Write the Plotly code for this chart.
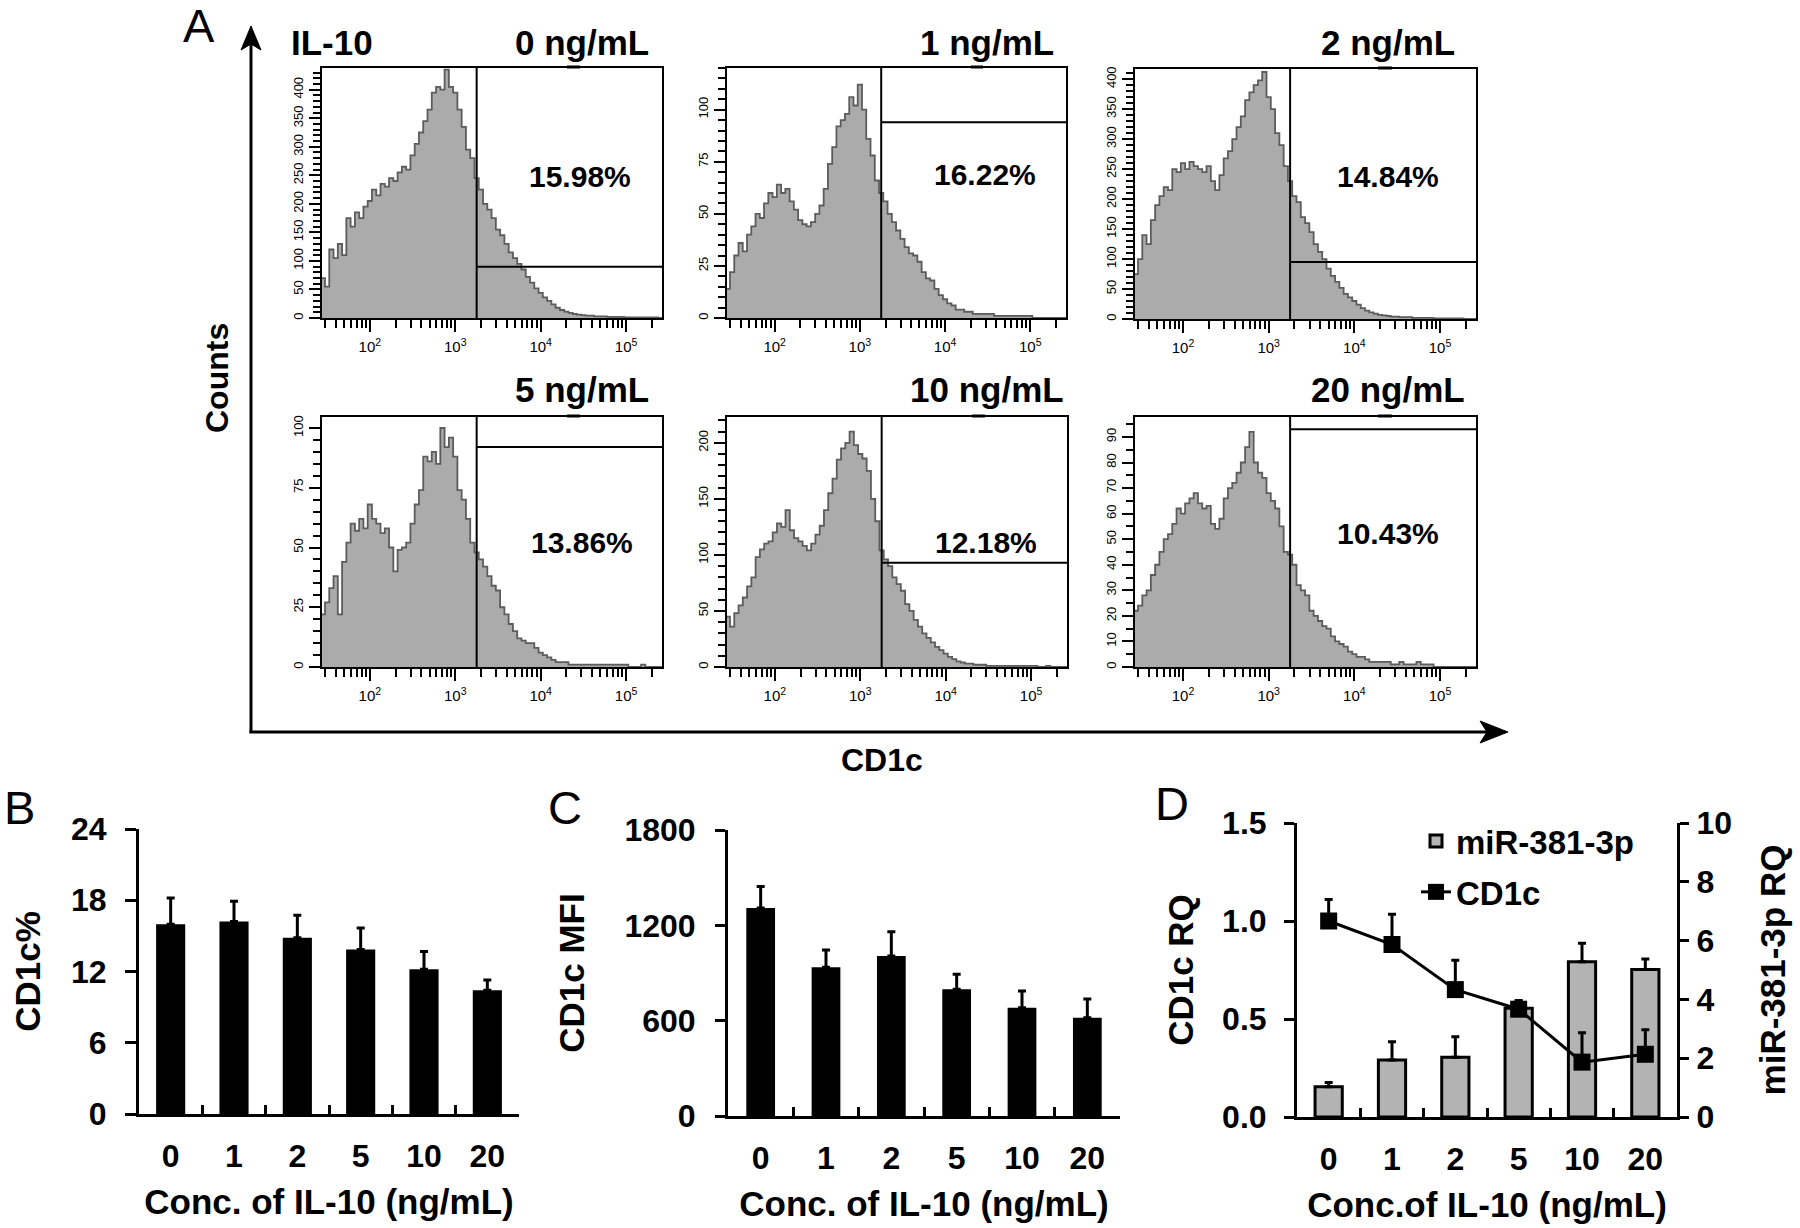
import numpy as np
import plotly.graph_objects as go

W, H = 1800, 1228
FONT = "Liberation Sans, Arial, sans-serif"

# ---------------- data ----------------
conc_labels = ["0", "1", "2", "5", "10", "20"]
panel_titles = ["0 ng/mL", "1 ng/mL", "2 ng/mL", "5 ng/mL", "10 ng/mL", "20 ng/mL"]
positive_pct_labels = ["15.98%", "16.22%", "14.84%", "13.86%", "12.18%", "10.43%"]

# histogram bins: log10(CD1c) centres start at 1.45, step 0.05
hist_log_first = 1.45
hist_log_step = 0.05

counts_0 = [70, 55, 120, 105, 130, 110, 175, 160, 185, 175,
            195, 205, 225, 215, 235, 230, 245, 240, 255, 265,
            260, 285, 305, 325, 345, 365, 395, 405, 400, 435,
            405, 395, 365, 335, 295, 280, 245, 225, 200, 190,
            175, 155, 145, 130, 115, 105, 95, 85, 72, 62,
            52, 44, 36, 30, 24, 18, 14, 11, 9, 7,
            6, 5, 4, 4, 3, 3, 3, 2, 2, 2,
            2, 1, 1, 1, 1, 1, 1, 1, 1, 0]
counts_1 = [14, 22, 30, 36, 32, 40, 44, 50, 48, 55,
            60, 58, 64, 60, 62, 56, 52, 47, 45, 44,
            46, 50, 54, 62, 74, 82, 92, 95, 98, 106,
            102, 112, 100, 86, 78, 66, 60, 56, 50, 46,
            42, 38, 34, 31, 30, 27, 22, 19, 18, 14,
            11, 9, 7, 6, 4, 4, 3, 3, 2, 2,
            2, 2, 2, 1, 1, 1, 1, 1, 1, 1,
            1, 1, 0, 0, 0, 0, 0, 0, 0, 0]
counts_2 = [75, 100, 140, 125, 165, 190, 205, 220, 215, 250,
            245, 260, 250, 262, 255, 250, 245, 255, 230, 215,
            240, 268, 280, 300, 320, 338, 365, 378, 390, 398,
            412, 370, 350, 310, 290, 255, 230, 205, 195, 170,
            160, 145, 125, 112, 100, 84, 72, 62, 52, 42,
            36, 30, 24, 18, 14, 11, 9, 7, 6, 5,
            4, 4, 3, 3, 3, 2, 2, 2, 2, 2,
            1, 1, 1, 1, 1, 1, 1, 0, 0, 0]
counts_3 = [22, 27, 33, 38, 22, 44, 52, 60, 57, 62,
            58, 68, 62, 60, 56, 58, 50, 40, 49, 50,
            52, 60, 68, 74, 88, 86, 90, 85, 100, 92,
            96, 88, 74, 70, 62, 52, 48, 45, 42, 38,
            34, 32, 25, 22, 18, 15, 12, 11, 10, 10,
            8, 6, 5, 4, 3, 2, 2, 2, 1, 1,
            1, 1, 1, 1, 1, 1, 1, 1, 1, 1,
            1, 1, 0, 0, 0, 1, 0, 0, 0, 0]
counts_4 = [45, 36, 48, 55, 62, 72, 80, 98, 105, 110,
            112, 120, 128, 125, 140, 122, 115, 112, 108, 104,
            110, 118, 126, 140, 155, 168, 185, 195, 200, 210,
            198, 190, 186, 175, 150, 130, 104, 96, 90, 80,
            74, 68, 56, 50, 42, 36, 30, 26, 22, 18,
            15, 12, 9, 7, 5, 4, 3, 3, 2, 2,
            2, 1, 1, 1, 1, 1, 1, 1, 1, 1,
            1, 1, 1, 0, 0, 1, 0, 0, 0, 0]
counts_5 = [22, 24, 28, 30, 36, 40, 45, 50, 52, 56,
            62, 60, 64, 66, 68, 64, 62, 63, 56, 54,
            58, 66, 70, 72, 76, 80, 86, 92, 80, 76,
            74, 68, 65, 62, 55, 45, 44, 40, 32, 30,
            28, 22, 20, 18, 16, 15, 12, 10, 9, 8,
            6, 5, 4, 4, 3, 2, 2, 2, 2, 2,
            1, 1, 2, 1, 1, 1, 2, 1, 1, 1,
            0, 0, 0, 0, 0, 0, 0, 0, 0, 0]
hist_counts = [counts_0, counts_1, counts_2, counts_3, counts_4, counts_5]

gate_value = 1780                      # CD1c gate position
marker_counts = [90, 94, 95, 92, 93, 93]  # horizontal marker level (counts)
count_axis_max = [438, 120, 417, 104.6, 223, 97.8]
count_major = [50, 25, 50, 25, 50, 10]
count_minor = [10, 5, 10, 5, 10, 5]
cd1c_range_log = [1.44, 5.42]
decade_ticks = [1e2, 1e3, 1e4, 1e5]
decade_text = ["10<sup>2</sup>", "10<sup>3</sup>", "10<sup>4</sup>", "10<sup>5</sup>"]

# panel B
cd1c_pct = [15.98, 16.22, 14.84, 13.86, 12.18, 10.43]
cd1c_pct_err = [2.2, 1.7, 1.9, 1.8, 1.5, 0.85]
# panel C
cd1c_mfi = [1309, 936, 1007, 798, 682, 619]
cd1c_mfi_err = [135, 109, 153, 94, 105, 118]
# panel D
mir_rq = [1.03, 1.94, 2.03, 3.70, 5.28, 5.02]
mir_rq_err = [0.14, 0.62, 0.70, 0.22, 0.63, 0.35]
cd1c_rq = [1.0, 0.88, 0.65, 0.55, 0.28, 0.32]
cd1c_rq_err = [0.11, 0.155, 0.15, 0.045, 0.15, 0.125]

# ---------------- layout helpers ----------------
def dom(l, t, r, b):
    return [l / W, r / W], [1 - b / H, 1 - t / H]

def px(x):
    return x / W

def py(y):
    return 1 - y / H

hist_boxes = [(322, 68, 662, 318), (727, 68, 1066, 318), (1135, 69, 1476, 319),
              (322, 417, 662, 667), (727, 417, 1067, 667), (1135, 417, 1476, 667)]

fig = go.Figure()
layout = {}
annotations = []
shapes = []

minor_vals = [m * 10 ** d for d in range(1, 6) for m in range(2, 10)]

for i, counts in enumerate(hist_counts):
    n = i + 1
    xs = 10 ** (hist_log_first - hist_log_step / 2 + hist_log_step * np.arange(len(counts) + 1))
    ys = list(counts) + [counts[-1]]
    xr, yr = f"x{n}", f"y{n}"
    fig.add_trace(go.Scatter(x=xs, y=ys, mode="lines", line=dict(shape="hv", color="#5c5c5c", width=1.8),
                             fill="tozeroy", fillcolor="#ababab", xaxis=xr, yaxis=yr,
                             showlegend=False, hoverinfo="skip"))
    fig.add_trace(go.Scatter(x=[gate_value, gate_value], y=[0, count_axis_max[i]], mode="lines",
                             line=dict(color="black", width=2), xaxis=xr, yaxis=yr,
                             showlegend=False, hoverinfo="skip", cliponaxis=False))
    fig.add_trace(go.Scatter(x=[gate_value, 10 ** cd1c_range_log[1]], y=[marker_counts[i]] * 2, mode="lines",
                             line=dict(color="black", width=2), xaxis=xr, yaxis=yr,
                             showlegend=False, hoverinfo="skip", cliponaxis=False))
    l, t, r, b = hist_boxes[i]
    dx, dy = dom(l, t, r, b)
    xkey = "xaxis" if n == 1 else f"xaxis{n}"
    ykey = "yaxis" if n == 1 else f"yaxis{n}"
    layout[xkey] = dict(domain=dx, anchor=yr, type="log", range=cd1c_range_log, automargin=False,
                        showline=True, linecolor="black", linewidth=2, mirror=True,
                        ticks="outside", ticklen=12, tickwidth=1.5, tickcolor="black",
                        tickmode="array", tickvals=decade_ticks, ticktext=decade_text,
                        tickfont=dict(family=FONT, size=15, color="black"), ticklabelstandoff=2,
                        minor=dict(ticks="outside", ticklen=8, tickwidth=1.5, tickcolor="black",
                                   tickmode="array", tickvals=minor_vals),
                        showgrid=False, zeroline=False)
    layout[ykey] = dict(domain=dy, anchor=xr, range=[0, count_axis_max[i]], automargin=False,
                        showline=True, linecolor="black", linewidth=2, mirror=True,
                        ticks="outside", ticklen=11, tickwidth=1.5, tickcolor="black",
                        dtick=count_major[i], tick0=0, tickangle=-90,
                        tickfont=dict(family=FONT, size=13, color="black"), ticklabelstandoff=1,
                        minor=dict(ticks="outside", ticklen=7, tickwidth=1.5, tickcolor="black",
                                   dtick=count_minor[i], tick0=0),
                        showgrid=False, zeroline=False)

# histogram texts
title_pos = [(582, 42), (987, 42), (1388, 42), (582, 389), (987, 389), (1388, 389)]
pct_pos = [(580, 177), (985, 175), (1388, 176), (582, 542), (986, 542), (1388, 533)]
for i in range(6):
    annotations.append(dict(text=panel_titles[i], x=px(title_pos[i][0]), y=py(title_pos[i][1]),
                            xref="paper", yref="paper", showarrow=False, xanchor="center", yanchor="middle",
                            font=dict(family=FONT, size=35, weight="bold", color="black")))
    annotations.append(dict(text=positive_pct_labels[i], x=px(pct_pos[i][0]), y=py(pct_pos[i][1]),
                            xref="paper", yref="paper", showarrow=False, xanchor="center", yanchor="middle",
                            font=dict(family=FONT, size=30, weight="bold", color="black")))
annotations.append(dict(text="IL-10", x=px(289), y=py(42), xref="paper", yref="paper", showarrow=False,
                        xanchor="left", yanchor="middle",
                        font=dict(family=FONT, size=35, weight="bold", color="black")))
for (x0, x1, yy) in [(567, 580, 67), (971, 983, 67), (1378, 1392, 68), (567, 580, 416), (972, 985, 416), (1378, 1392, 416)]:
    shapes.append(dict(type="rect", xref="paper", yref="paper", x0=px(x0), x1=px(x1), y0=py(yy + 1.5), y1=py(yy - 1.5),
                       fillcolor="black", line=dict(width=0)))

# big axes arrows of panel A
shapes.append(dict(type="line", xref="paper", yref="paper", x0=px(251), x1=px(251), y0=py(733), y1=py(44),
                   line=dict(color="black", width=3)))
shapes.append(dict(type="path", xref="paper", yref="paper",
                   path=f"M {px(251)},{py(26)} L {px(241)},{py(50)} L {px(251)},{py(44)} L {px(261)},{py(50)} Z",
                   fillcolor="black", line=dict(color="black", width=1)))
shapes.append(dict(type="line", xref="paper", yref="paper", x0=px(249.5), x1=px(1488), y0=py(732), y1=py(732),
                   line=dict(color="black", width=3)))
shapes.append(dict(type="path", xref="paper", yref="paper",
                   path=f"M {px(1508)},{py(732)} L {px(1480)},{py(721)} L {px(1487)},{py(732)} L {px(1480)},{py(743)} Z",
                   fillcolor="black", line=dict(color="black", width=1)))
annotations.append(dict(text="Counts", x=px(217), y=py(378), xref="paper", yref="paper", showarrow=False,
                        textangle=-90, xanchor="center", yanchor="middle",
                        font=dict(family=FONT, size=32, weight="bold", color="black")))
annotations.append(dict(text="CD1c", x=px(882), y=py(760), xref="paper", yref="paper", showarrow=False,
                        xanchor="center", yanchor="middle",
                        font=dict(family=FONT, size=32, weight="bold", color="black")))
for letter, (lx, ly) in zip(["A", "B", "C", "D"], [(199, 25), (19, 807), (565, 807), (1172, 803)]):
    annotations.append(dict(text=letter, x=px(lx), y=py(ly), xref="paper", yref="paper", showarrow=False,
                            xanchor="center", yanchor="middle",
                            font=dict(family=FONT, size=47, color="black")))

# ---------------- bar panels ----------------
tick_bold = dict(family=FONT, size=32, weight="bold", color="black")
xtick_bold = dict(family=FONT, size=32, weight="bold", color="black")
title_bold = dict(family=FONT, size=35, weight="bold", color="black")

def cat_xaxis(domain, anchor, title):
    return dict(domain=domain, anchor=anchor, type="category", range=[-0.5, 5.5], automargin=False,
                showline=True, linecolor="black", linewidth=3,
                ticks="inside", tickson="boundaries", ticklen=9, tickwidth=3, tickcolor="black",
                tickfont=xtick_bold, ticklabelstandoff=12,
                title=dict(text=title, font=title_bold, standoff=17),
                showgrid=False, zeroline=False)

def val_yaxis(domain, anchor, rng, dt, title, side="left", standoff=14, fmt=None, ticklen=10, lab_standoff=12):
    d = dict(domain=domain, anchor=anchor, range=rng, dtick=dt, tick0=0, side=side, automargin=False,
             showline=True, linecolor="black", linewidth=3,
             ticks="outside", ticklen=ticklen, tickwidth=3, tickcolor="black",
             tickfont=tick_bold, ticklabelstandoff=lab_standoff,
             title=dict(text=title, font=title_bold, standoff=standoff),
             showgrid=False, zeroline=False)
    if fmt:
        d["tickformat"] = fmt
    return d

err_style = dict(type="data", symmetric=False, color="black", thickness=3, width=4)

# B
dxB, dyB = dom(139, 829, 519, 1114)
fig.add_trace(go.Bar(x=conc_labels, y=cd1c_pct, width=0.46, marker=dict(color="black", line=dict(width=0)),
                     error_y=dict(array=cd1c_pct_err, arrayminus=[0] * 6, **err_style),
                     xaxis="x7", yaxis="y7", showlegend=False))
layout["xaxis7"] = cat_xaxis(dxB, "y7", "Conc. of IL-10 (ng/mL)")
layout["yaxis7"] = val_yaxis(dyB, "x7", [0, 24], 6, "CD1c%", standoff=20, ticklen=11, lab_standoff=12)

# C
dxC, dyC = dom(728, 830, 1120, 1116)
fig.add_trace(go.Bar(x=conc_labels, y=cd1c_mfi, width=0.44, marker=dict(color="black", line=dict(width=0)),
                     error_y=dict(array=cd1c_mfi_err, arrayminus=[0] * 6, **err_style),
                     xaxis="x8", yaxis="y8", showlegend=False))
layout["xaxis8"] = cat_xaxis(dxC, "y8", "Conc. of IL-10 (ng/mL)")
layout["yaxis8"] = val_yaxis(dyC, "x8", [0, 1800], 600, "CD1c MFI", standoff=30, ticklen=10, lab_standoff=13)

# D
dxD, dyD = dom(1297, 823, 1677, 1117)
fig.add_trace(go.Bar(x=conc_labels, y=mir_rq, width=0.43, name="miR-381-3p",
                     marker=dict(color="#b3b3b3", line=dict(color="black", width=3)),
                     error_y=dict(array=mir_rq_err, arrayminus=[0] * 6, **err_style),
                     xaxis="x9", yaxis="y9", legendgroup="g1"))
fig.add_trace(go.Scatter(x=conc_labels, y=cd1c_rq, name="CD1c", mode="lines+markers",
                         line=dict(color="black", width=3),
                         marker=dict(symbol="square", size=17, color="black"),
                         error_y=dict(array=cd1c_rq_err, arrayminus=[0] * 6, **err_style),
                         xaxis="x9", yaxis="y10", legendgroup="g2"))
layout["xaxis9"] = cat_xaxis(dxD, "y9", "Conc.of IL-10 (ng/mL)")
layout["yaxis9"] = val_yaxis(dyD, "x9", [0, 10], 2, "miR-381-3p RQ", side="right", standoff=30, ticklen=9, lab_standoff=1)
layout["yaxis10"] = val_yaxis(dyD, "x9", [0, 1.5], 0.5, "CD1c RQ", side="left", standoff=18, fmt=".1f", ticklen=10, lab_standoff=11)
layout["yaxis10"]["overlaying"] = "y9"

fig.update_layout(width=W, height=H, margin=dict(l=0, r=0, t=0, b=0, autoexpand=False),
                  paper_bgcolor="white", plot_bgcolor="white",
                  font=dict(family=FONT, color="black"),
                  showlegend=True,
                  legend=dict(x=px(1416), y=py(813), xanchor="left", yanchor="top",
                              bgcolor="rgba(0,0,0,0)", traceorder="grouped", tracegroupgap=5,
                              font=dict(family=FONT, size=33, weight="bold", color="black"),
                              itemwidth=30),
                  annotations=annotations, shapes=shapes, **layout)

fig.write_html("out.html", config={"displayModeBar": False},
               post_script="document.body.style.margin='0px';document.body.style.padding='0px';")
